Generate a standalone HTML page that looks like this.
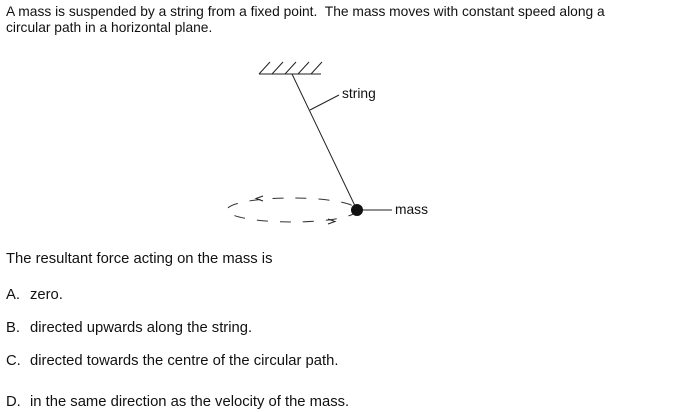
<!DOCTYPE html>
<html><head><style>
body{margin:0;width:676px;height:412px;background:#fff;position:relative;font-family:"Liberation Sans",Arial,sans-serif;font-size:13.8px;color:#111;overflow:hidden}
.t{position:absolute;white-space:nowrap;line-height:16px}
.l{font-size:14.8px}
</style></head><body>
<div class="t" style="left:6px;top:4px">A mass is suspended by a string from a fixed point.&nbsp; The mass moves with constant speed along a<br>circular path in a horizontal plane.</div>
<svg style="position:absolute;left:0;top:0" width="676" height="412">
<g stroke="#222" stroke-width="1" fill="none">
<line x1="259" y1="74" x2="321" y2="74"/>
<line x1="259" y1="74" x2="270" y2="62"/>
<line x1="272" y1="74" x2="283" y2="62"/>
<line x1="285" y1="74" x2="296" y2="62"/>
<line x1="298" y1="74" x2="309" y2="62"/>
<line x1="311" y1="74" x2="322" y2="62"/>
<line x1="292" y1="74" x2="356" y2="208"/>
<line x1="310" y1="110" x2="339" y2="95"/>
<line x1="362" y1="210" x2="392" y2="210"/>
<ellipse cx="292" cy="210" rx="65" ry="12" stroke-dasharray="11,12" stroke="#333"/>
<polyline points="263,196 256,198.5 263,201"/>
<polyline points="328,219 335,221.5 328,224"/>
</g>
<circle cx="357" cy="210" r="6" fill="#111"/>
</svg>
<div class="t" style="left:342px;top:86px">string</div>
<div class="t" style="left:395px;top:202px">mass</div>
<div class="t l" style="left:6px;top:251px">The resultant force acting on the mass is</div>
<div class="t l" style="left:6px;top:287px">A.</div><div class="t l" style="left:30px;top:287px">zero.</div>
<div class="t l" style="left:6px;top:320px">B.</div><div class="t l" style="left:30px;top:320px">directed upwards along the string.</div>
<div class="t l" style="left:6px;top:353px">C.</div><div class="t l" style="left:30px;top:353px">directed towards the centre of the circular path.</div>
<div class="t l" style="left:6px;top:394px">D.</div><div class="t l" style="left:30px;top:394px">in the same direction as the velocity of the mass.</div>
</body></html>
